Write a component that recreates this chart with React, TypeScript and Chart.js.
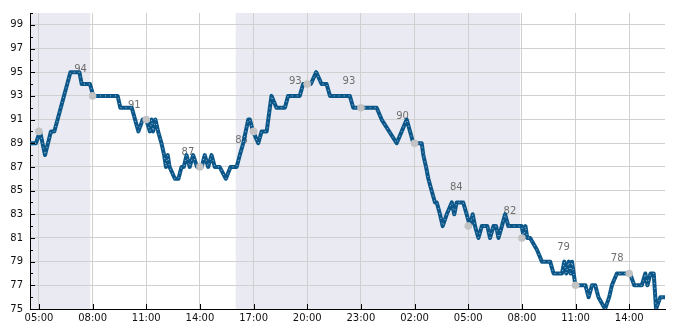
import React, { useEffect, useRef } from 'react';
import { Chart, registerables } from 'chart.js';

Chart.register(...registerables);

// hours since 05:00 of day 1
const START_HOUR = 5;
const X_MIN = -0.5;
const X_MAX = 35;
const Y_MIN = 75;
const Y_MAX = 100;

const times = [
  -0.5, -0.17, 0.06, 0.34, 0.67, 0.86, 1.76, 2.26, 2.39, 2.85, 3.04, 4.4, 4.55, 5.19, 5.56, 5.8, 6.0, 6.2, 6.3, 6.38,
  6.51, 6.66, 6.85, 7.0, 7.1, 7.2, 7.3, 7.6, 7.8, 7.97, 8.1, 8.25, 8.43, 8.62, 8.84, 9.0, 9.1, 9.27, 9.46, 9.65,
  9.83, 10.1, 10.45, 10.71, 11.05, 11.23, 11.42, 11.7, 11.79, 11.97, 12.26, 12.45, 12.73, 13.0, 13.28, 13.75, 13.93,
  14.58, 14.77, 15.2, 15.5, 15.8, 16.08, 16.27, 17.38, 17.57, 18.88, 19.16, 20.0, 20.28, 20.56, 20.93, 21.4, 21.49,
  21.64, 21.77, 21.95, 22.14, 22.24, 22.42, 22.57, 22.8, 23.08, 23.22, 23.35, 23.72, 23.91, 24.1, 24.25, 24.38,
  24.57, 24.76, 25.07, 25.22, 25.41, 25.56, 25.69, 25.88, 26.06, 26.24, 26.99, 27.1, 27.2, 27.3, 27.46, 27.84,
  28.12, 28.58, 28.77, 29.24, 29.37, 29.48, 29.62, 29.72, 29.8, 29.99, 30.55, 30.73, 30.92, 31.1, 31.28, 31.65,
  31.88, 32.03, 32.31, 33.05, 33.28, 33.7, 33.9, 34.02, 34.19, 34.37, 34.5, 34.74, 35.0,
];
const humidity = [
  89, 89, 90, 88, 90, 90, 95, 95, 94, 94, 93, 93, 92, 92, 90, 91, 91, 90, 91, 90,
  91, 90, 89, 88, 87, 88, 87, 86, 86, 87, 87, 88, 87, 88, 87, 87, 87, 88, 87, 88,
  87, 87, 86, 87, 87, 88, 89, 91, 91, 90, 89, 90, 90, 93, 92, 92, 93,
  93, 94, 94, 95, 94, 94, 93, 93, 92, 92, 91, 89, 90, 91, 89, 89, 88,
  87, 86, 85, 84, 84, 83, 82, 83, 84, 83, 84, 84, 83, 82, 83, 82,
  81, 82, 82, 81, 82, 82, 81, 82, 83, 82, 82, 81, 82, 81, 81, 80,
  79, 79, 78, 78, 79, 78, 79, 78, 79, 77, 77, 76, 77, 77, 76, 75,
  76, 77, 78, 78, 77, 77, 78, 77, 78, 78, 75, 76, 76,
];

const markerTimes = [0, 3, 6, 9, 12, 15, 18, 21, 24, 27, 30, 33];
const markerValues = [90, 93, 91, 87, 90, 94, 92, 89, 82, 81, 77, 78];

const labelTimes = [3, 6, 9, 12, 15, 18, 21, 24, 27, 30, 33];
const labelValues = [94, 91, 87, 88, 93, 93, 90, 84, 82, 79, 78];

const nightStarts = [-0.5, 11.0];
const nightEnds = [2.87, 26.9];

const FONT = 'DejaVu Sans';

const fmtHour = (v: number) => {
  const h = (((START_HOUR + Math.round(v)) % 24) + 24) % 24;
  return (h < 10 ? '0' : '') + h + ':00';
};

export default function App() {
  const ref = useRef<HTMLCanvasElement | null>(null);

  useEffect(() => {
    if (!ref.current) return;
    const linePts = times.map((t, i) => ({ x: t, y: humidity[i] }));
    const markerPts = markerTimes.map((t, i) => ({ x: t, y: markerValues[i] }));

    const shading = {
      id: 'shading',
      beforeDraw(chart: any) {
        const { ctx, chartArea, scales } = chart;
        ctx.save();
        ctx.fillStyle = '#eaeaf2';
        for (let i = 0; i < nightStarts.length; i++) {
          const x0 = Math.max(chartArea.left, scales.x.getPixelForValue(nightStarts[i]));
          const x1 = Math.min(chartArea.right, scales.x.getPixelForValue(nightEnds[i]));
          ctx.fillRect(x0, chartArea.top, x1 - x0, chartArea.bottom - chartArea.top);
        }
        ctx.restore();
      },
    };

    const valueLabels = {
      id: 'valueLabels',
      beforeDatasetsDraw(chart: any) {
        const { ctx, scales } = chart;
        ctx.save();
        ctx.font = `10px "${FONT}"`;
        ctx.fillStyle = '#6e6e6e';
        ctx.textAlign = 'center';
        ctx.textBaseline = 'alphabetic';
        labelTimes.forEach((t, i) => {
          const x = scales.x.getPixelForValue(t) - 12;
          const y = scales.y.getPixelForValue(labelValues[i]) - 12;
          ctx.fillText(String(labelValues[i]), x, y);
        });
        ctx.restore();
      },
    };

    const markers = {
      id: 'markers',
      afterDatasetsDraw(chart: any) {
        const { ctx, scales } = chart;
        ctx.save();
        ctx.fillStyle = '#c3c3c3';
        markerPts.forEach((p) => {
          ctx.beginPath();
          ctx.arc(scales.x.getPixelForValue(p.x), scales.y.getPixelForValue(p.y), 3.8, 0, Math.PI * 2);
          ctx.fill();
        });
        ctx.restore();
      },
    };

    const innerTicks = {
      id: 'innerTicks',
      afterDraw(chart: any) {
        const { ctx, chartArea, scales } = chart;
        ctx.save();
        ctx.strokeStyle = '#000';
        ctx.lineWidth = 1;
        ctx.beginPath();
        for (let v = Y_MIN; v <= Y_MAX; v++) {
          const y = Math.round(scales.y.getPixelForValue(v)) + 0.5;
          const len = v % 2 === 1 ? 5 : 3;
          ctx.moveTo(chartArea.left, y);
          ctx.lineTo(chartArea.left + len, y);
        }
        for (let t = 0; t <= X_MAX; t += 3) {
          const x = Math.round(scales.x.getPixelForValue(t)) + 0.5;
          ctx.moveTo(x, chartArea.bottom);
          ctx.lineTo(x, chartArea.bottom - 5);
        }
        ctx.stroke();
        ctx.restore();
      },
    };

    const chart = new Chart(ref.current, {
      type: 'line',
      data: {
        datasets: [
          {
            label: 'humidity-dots',
            data: linePts,
            borderColor: 'rgba(255,255,255,0.6)',
            borderWidth: 1,
            borderDash: [1, 4],
            borderJoinStyle: 'round',
            pointRadius: 0,
            tension: 0,
            fill: false,
            order: 1,
          },
          {
            label: 'humidity',
            data: linePts,
            borderColor: '#0c5789',
            borderWidth: 4,
            borderJoinStyle: 'round',
            borderCapStyle: 'butt',
            pointRadius: 0,
            tension: 0,
            fill: false,
            order: 2,
          },
        ],
      },
      options: {
        responsive: false,
        animation: false,
        events: [],
        layout: { padding: { left: 0, top: 10, right: 20, bottom: 0 } },
        plugins: { legend: { display: false }, tooltip: { enabled: false } },
        scales: {
          x: {
            type: 'linear',
            min: X_MIN,
            max: X_MAX,
            afterFit: (s: any) => {
              s.height = 21;
            },
            ticks: {
              stepSize: 3,
              includeBounds: false,
              autoSkip: false,
              maxRotation: 0,
              padding: 3,
              color: '#111',
              font: { family: FONT, size: 10 },
              callback: (v: any) => fmtHour(Number(v)),
            },
            grid: { color: '#d0d0d0', drawTicks: false, lineWidth: 1 },
            border: { color: '#000', width: 1 },
          },
          y: {
            min: Y_MIN,
            max: Y_MAX,
            afterFit: (s: any) => {
              s.width = 30;
            },
            ticks: {
              stepSize: 1,
              autoSkip: false,
              padding: 7,
              color: '#111',
              font: { family: FONT, size: 10 },
              callback: (v: any) => (Number(v) % 2 === 1 ? String(v) : ''),
            },
            grid: {
              drawTicks: false,
              color: (c: any) => (c.tick && c.tick.value % 2 === 1 ? '#d0d0d0' : 'rgba(0,0,0,0)'),
            },
            border: { color: '#000', width: 1 },
          },
        },
      },
      plugins: [shading, valueLabels, markers, innerTicks],
    } as any);

    return () => chart.destroy();
  }, []);

  return (
    <div style={{ position: 'fixed', left: 0, top: 0, width: 685, height: 330, background: '#fff' }}>
      <canvas ref={ref} width={685} height={330} style={{ display: 'block' }} />
    </div>
  );
}
